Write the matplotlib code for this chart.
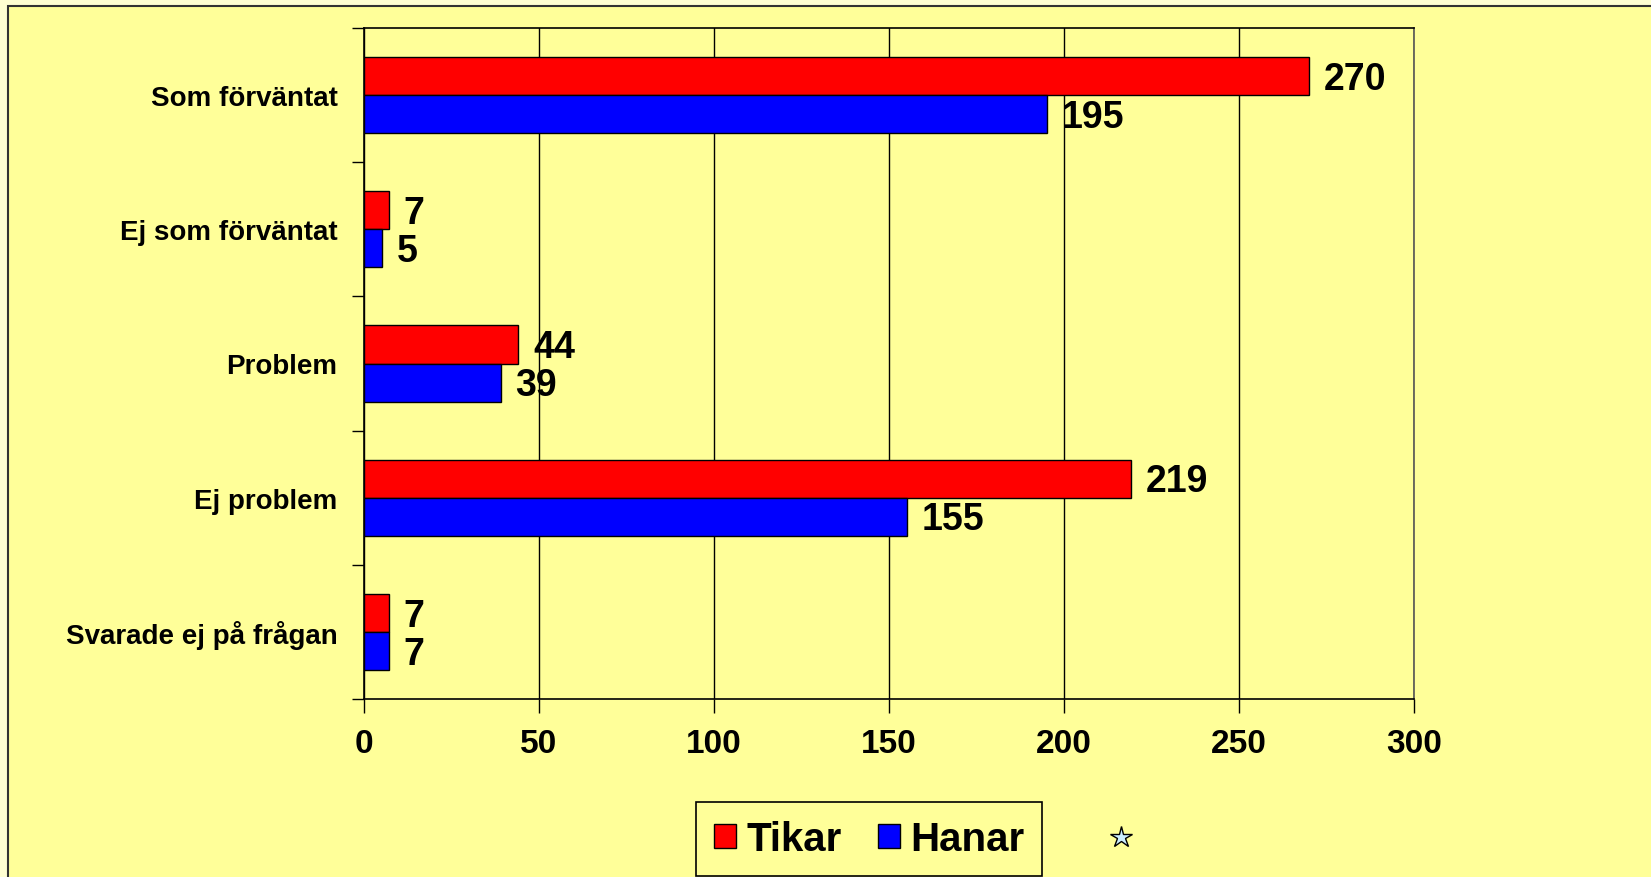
import matplotlib.pyplot as plt
import matplotlib.patches as mpatches
import numpy as np

categories = [
    "Som förväntat",
    "Ej som förväntat",
    "Problem",
    "Ej problem",
    "Svarade ej på frågan",
]
tikar = [270, 7, 44, 219, 7]
hanar = [195, 5, 39, 155, 7]
series_names = ["Tikar", "Hanar"]
x_ticks = [0, 50, 100, 150, 200, 250, 300]

BG = '#FFFF99'
OUTER = '#FFFFD2'
RED = '#FF0000'
BLUE = '#0000FF'

plt.rcParams['font.family'] = ['Liberation Sans', 'DejaVu Sans']
plt.rcParams['font.weight'] = 'bold'

fig = plt.figure(figsize=(16.51, 8.78), dpi=100, facecolor=OUTER)

# chart area frame (only left/top edge visible in the original)
frame = mpatches.Rectangle((8 / 1651, -0.05), 1.2, 1 - 7 / 878 + 0.05,
                           transform=fig.transFigure, facecolor=BG,
                           edgecolor='#333333', linewidth=1.5, zorder=-10)
fig.patches.append(frame)

ax = fig.add_axes([364 / 1651, 1 - 700 / 878, 1050 / 1651, 671 / 878])
ax.set_facecolor(BG)
ax.set_zorder(2)

y = np.arange(len(categories))
h = 0.284
bars_t = ax.barh(y - h / 2, tikar, height=h, color=RED, edgecolor='black',
                 linewidth=1, zorder=3, label=series_names[0])
bars_h = ax.barh(y + h / 2, hanar, height=h, color=BLUE, edgecolor='black',
                 linewidth=1, zorder=3, label=series_names[1])

for bars, vals in [(bars_t, tikar), (bars_h, hanar)]:
    for b, v in zip(bars, vals):
        ax.text(v + 4.3, b.get_y() + b.get_height() / 2 + 0.02, str(v),
                va='center', ha='left', fontsize=27, fontweight='bold',
                zorder=4)

ax.set_xlim(0, 300)
ax.set_ylim(len(categories) - 0.5, -0.5)
ax.set_xticks(x_ticks)
ax.set_xticklabels([str(t) for t in x_ticks], fontsize=24, fontweight='bold')
ax.tick_params(axis='x', length=10, width=1, pad=11, color='black')

# category boundaries carry the tick marks, labels sit at the centres
ax.set_yticks(np.arange(len(categories) + 1) - 0.5)
ax.set_yticklabels([])
ax.set_yticks(y, minor=True)
ax.set_yticklabels(categories, minor=True, fontsize=20, fontweight='bold')
ax.tick_params(axis='y', which='major', length=9, width=1, color='black')
ax.tick_params(axis='y', which='minor', length=0, pad=19)

ax.grid(axis='x', color='black', linewidth=1, zorder=1)
ax.set_axisbelow(True)
for s in ax.spines.values():
    s.set_color('black')
    s.set_linewidth(1.2)
ax.spines['right'].set_color('#555555')

leg = fig.legend(handles=[bars_t, bars_h], labels=series_names,
                 loc='center', bbox_to_anchor=(869 / 1651, 1 - 840 / 878),
                 ncol=2, prop={'weight': 'bold', 'size': 29},
                 frameon=True, fancybox=False, edgecolor='black',
                 facecolor=BG, framealpha=1, handlelength=0.55,
                 handleheight=0.55, handletextpad=0.25, columnspacing=0.9,
                 borderpad=0.45, borderaxespad=0)
leg.get_frame().set_linewidth(1.2)

# small star next to the legend
fig.add_artist(plt.Line2D([1121 / 1651], [1 - 838 / 878], marker='*',
                          markersize=16, markerfacecolor='#CCEEFF',
                          markeredgecolor='black', markeredgewidth=1,
                          transform=fig.transFigure))

plt.savefig("out.png", dpi=100, facecolor=fig.get_facecolor())
